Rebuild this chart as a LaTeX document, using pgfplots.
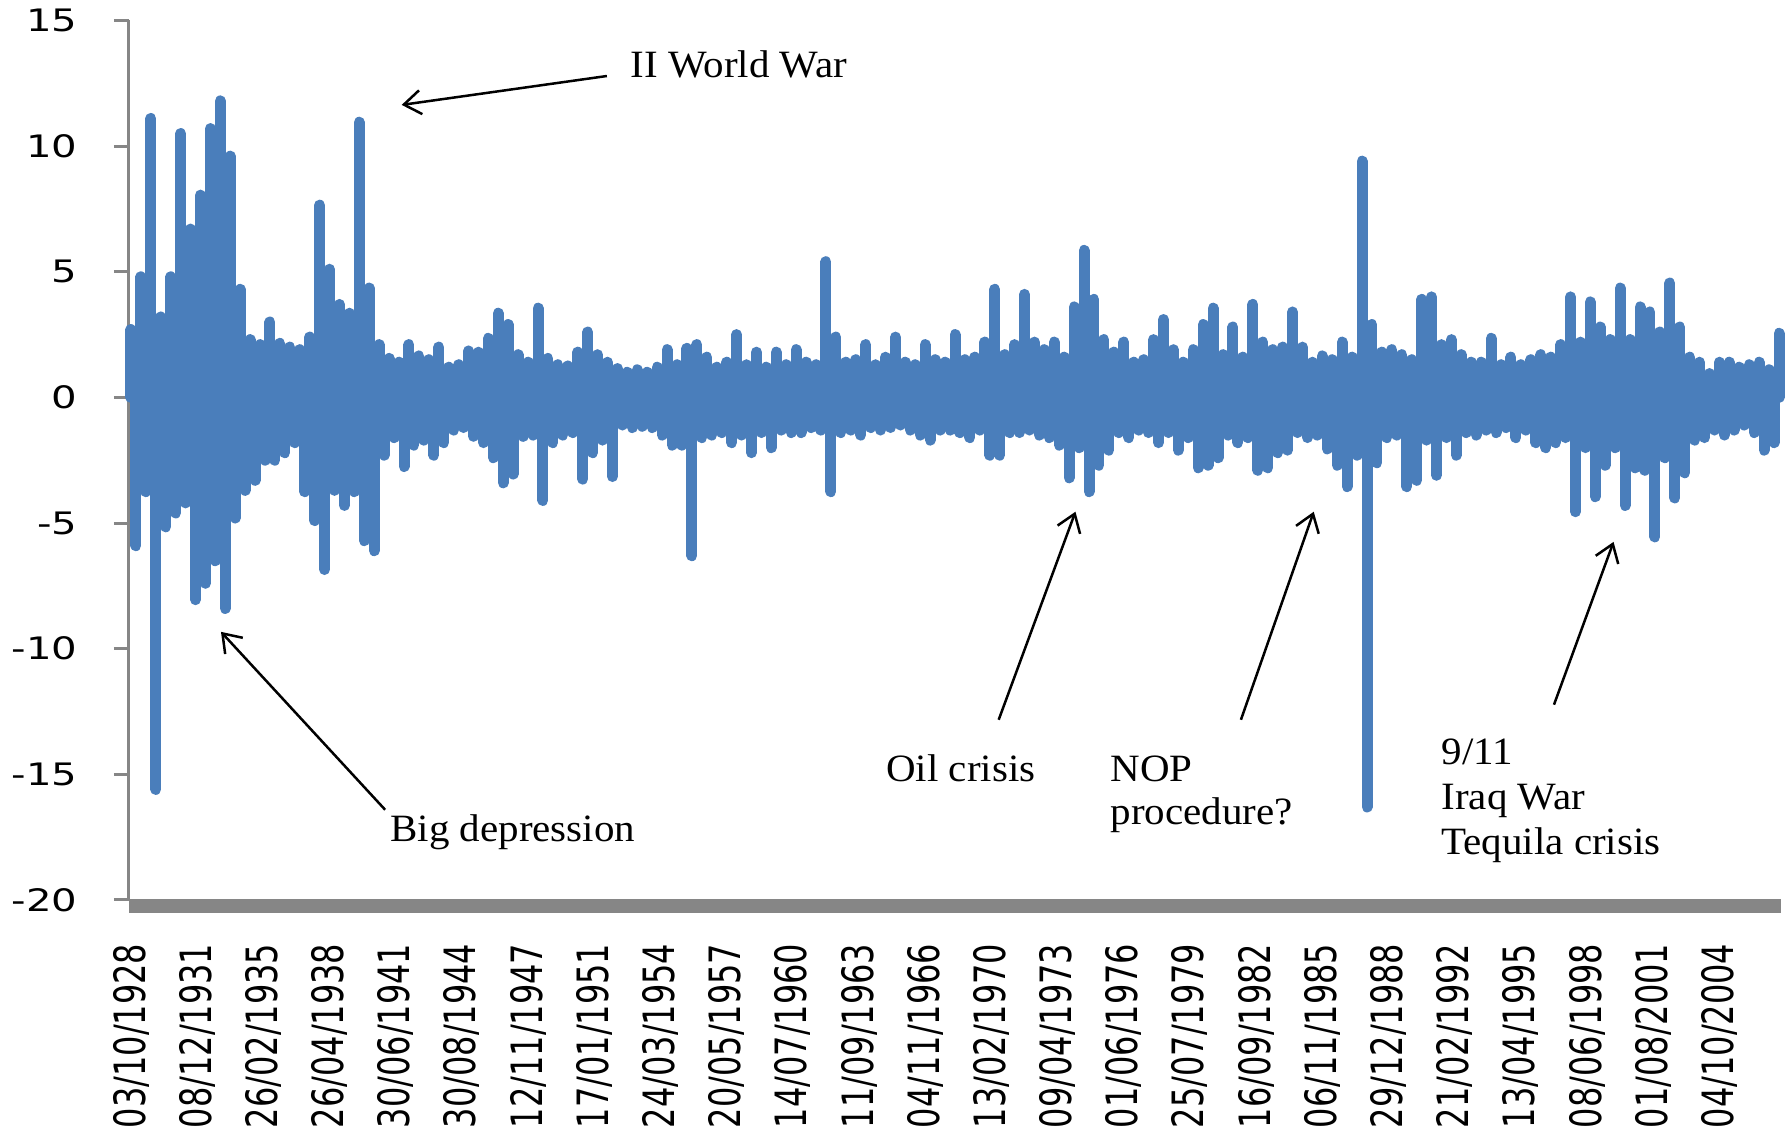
\documentclass[border=0pt]{standalone}
\usepackage{fontspec}
\usepackage{graphicx}
\usepackage{pgfplots}
\pgfplotsset{compat=1.18}
\usetikzlibrary{arrows.meta}
\newfontfamily\tickfont{DejaVu Sans}
\newfontfamily\annfont{Liberation Serif}[FakeStretch=1.06]
\definecolor{lineblue}{RGB}{74,126,187}
\definecolor{axgray}{RGB}{134,134,134}
\newcommand\xl[1]{\scalebox{1}[1.35]{#1}}
\newcommand\yl[1]{\scalebox{1.3}[1]{#1}}
\begin{document}
\begin{tikzpicture}
\begin{axis}[
  scale only axis, width=165mm, height=87.95mm,
  xmin=-0.03, xmax=24.9, ymin=-20, ymax=15,
  axis lines*=left,
  x axis line style={draw=none},
  y axis line style={axgray, line width=0.3mm},
  ytick={-20,-15,...,15},
  yticklabels={\yl{-20},\yl{-15},\yl{-10},\yl{-5},\yl{0},\yl{5},\yl{10},\yl{15}},
  xtick={0,...,24},
  xticklabels={\xl{03/10/1928},\xl{08/12/1931},\xl{26/02/1935},\xl{26/04/1938},\xl{30/06/1941},\xl{30/08/1944},\xl{12/11/1947},\xl{17/01/1951},\xl{24/03/1954},\xl{20/05/1957},\xl{14/07/1960},\xl{11/09/1963},\xl{04/11/1966},\xl{13/02/1970},\xl{09/04/1973},\xl{01/06/1976},\xl{25/07/1979},\xl{16/09/1982},\xl{06/11/1985},\xl{29/12/1988},\xl{21/02/1992},\xl{13/04/1995},\xl{08/06/1998},\xl{01/08/2001},\xl{04/10/2004}},
  x tick style={draw=none},
  y tick style={axgray, line width=0.3mm},
  tick align=outside, major tick length=1.5mm,
  x tick label style={font=\tickfont\fontsize{9.1}{10}\selectfont, rotate=90, anchor=east, inner sep=0pt},
  xticklabel shift=2.8mm,
  y tick label style={font=\tickfont\fontsize{8.8}{10}\selectfont, anchor=east, inner sep=0pt},
  yticklabel shift=3.6mm,
  clip=false,
]
\addplot[lineblue, line width=1.1mm, line cap=round, ycomb]
table[x expr={0.0+0.075*\coordindex}, y index=0, row sep=\\] {
y\\
2.7\\ -5.9\\ 4.8\\ -3.75\\ 11.1\\ -15.6\\ 3.2\\ -5.15\\ 4.8\\ -4.6\\
10.5\\ -4.2\\ 6.7\\ -8.05\\ 8.05\\ -7.4\\ 10.7\\ -6.5\\ 11.8\\ -8.4\\
9.6\\ -4.8\\ 4.3\\ -3.7\\ 2.3\\ -3.3\\ 2.1\\ -2.5\\ 3.0\\ -2.5\\
2.15\\ -2.2\\ 2.0\\ -1.8\\ 1.9\\ -3.75\\ 2.4\\ -4.9\\ 7.65\\ -6.85\\
5.1\\ -3.7\\ 3.7\\ -4.3\\ 3.35\\ -3.75\\ 10.95\\ -5.7\\ 4.35\\ -6.1\\
2.1\\ -2.3\\ 1.55\\ -1.6\\ 1.4\\ -2.75\\ 2.1\\ -1.9\\ 1.65\\ -1.7\\
1.5\\ -2.3\\ 2.0\\ -1.8\\ 1.2\\ -1.3\\ 1.3\\ -1.2\\ 1.85\\ -1.55\\
1.8\\ -1.8\\ 2.35\\ -2.4\\ 3.35\\ -3.4\\ 2.9\\ -3.05\\ 1.7\\ -1.55\\
1.4\\ -1.5\\ 3.55\\ -4.1\\ 1.55\\ -1.8\\ 1.3\\ -1.5\\ 1.25\\ -1.4\\
1.8\\ -3.25\\ 2.6\\ -2.2\\ 1.7\\ -1.7\\ 1.4\\ -3.15\\ 1.15\\ -1.1\\
1.0\\ -1.2\\ 1.1\\ -1.15\\ 1.0\\ -1.2\\ 1.2\\ -1.5\\ 1.9\\ -1.9\\
1.3\\ -1.9\\ 1.95\\ -6.3\\ 2.1\\ -1.6\\ 1.6\\ -1.5\\ 1.2\\ -1.4\\
1.4\\ -1.8\\ 2.5\\ -1.5\\ 1.3\\ -2.2\\ 1.8\\ -1.4\\ 1.2\\ -2.0\\
1.8\\ -1.3\\ 1.3\\ -1.4\\ 1.9\\ -1.4\\ 1.4\\ -1.2\\ 1.3\\ -1.3\\
5.4\\ -3.75\\ 2.4\\ -1.4\\ 1.4\\ -1.3\\ 1.5\\ -1.5\\ 2.1\\ -1.2\\
1.3\\ -1.3\\ 1.6\\ -1.2\\ 2.4\\ -1.1\\ 1.4\\ -1.3\\ 1.3\\ -1.5\\
2.1\\ -1.7\\ 1.5\\ -1.3\\ 1.4\\ -1.3\\ 2.5\\ -1.4\\ 1.5\\ -1.6\\
1.6\\ -1.3\\ 2.2\\ -2.3\\ 4.3\\ -2.3\\ 1.7\\ -1.4\\ 2.1\\ -1.4\\
4.1\\ -1.3\\ 2.2\\ -1.5\\ 1.9\\ -1.6\\ 2.2\\ -1.9\\ 1.6\\ -3.2\\
3.6\\ -2.0\\ 5.85\\ -3.75\\ 3.9\\ -2.7\\ 2.3\\ -2.1\\ 1.8\\ -1.4\\
2.2\\ -1.6\\ 1.4\\ -1.3\\ 1.5\\ -1.4\\ 2.3\\ -1.8\\ 3.1\\ -1.4\\
1.9\\ -2.1\\ 1.4\\ -1.6\\ 1.9\\ -2.8\\ 2.9\\ -2.7\\ 3.55\\ -2.4\\
1.7\\ -1.5\\ 2.8\\ -1.8\\ 1.6\\ -1.6\\ 3.7\\ -2.9\\ 2.2\\ -2.8\\
1.9\\ -2.2\\ 2.0\\ -2.1\\ 3.4\\ -1.4\\ 2.0\\ -1.6\\ 1.4\\ -1.5\\
1.65\\ -2.05\\ 1.5\\ -2.7\\ 2.2\\ -3.55\\ 1.6\\ -2.3\\ 9.4\\ -16.3\\
2.9\\ -2.6\\ 1.8\\ -1.6\\ 1.9\\ -1.5\\ 1.7\\ -3.55\\ 1.5\\ -3.3\\
3.9\\ -1.7\\ 4.0\\ -3.1\\ 2.1\\ -1.6\\ 2.3\\ -2.3\\ 1.7\\ -1.4\\
1.4\\ -1.5\\ 1.4\\ -1.3\\ 2.35\\ -1.4\\ 1.3\\ -1.2\\ 1.6\\ -1.6\\
1.3\\ -1.3\\ 1.5\\ -1.8\\ 1.7\\ -2.0\\ 1.6\\ -1.8\\ 2.1\\ -1.6\\
4.0\\ -4.55\\ 2.2\\ -2.0\\ 3.8\\ -3.95\\ 2.8\\ -2.7\\ 2.3\\ -2.0\\
4.35\\ -4.3\\ 2.3\\ -2.8\\ 3.6\\ -2.9\\ 3.4\\ -5.55\\ 2.6\\ -2.4\\
4.55\\ -4.0\\ 2.8\\ -3.0\\ 1.6\\ -1.7\\ 1.4\\ -1.6\\ 0.95\\ -1.3\\
1.4\\ -1.5\\ 1.4\\ -1.3\\ 1.2\\ -1.1\\ 1.3\\ -1.4\\ 1.4\\ -2.1\\
1.1\\ -1.8\\ 2.55\\
};
\fill[axgray] ([yshift=0.05mm]rel axis cs:0,0) rectangle ([yshift=-1.35mm, xshift=0.2mm]rel axis cs:1,0);
% annotations
\begin{scope}[font=\annfont\fontsize{11}{13}\selectfont]
\node[anchor=base west, inner sep=0pt] at (axis cs:7.54,12.75) {II World War};
\node[anchor=base west, inner sep=0pt] at (axis cs:3.91,-17.68) {Big depression};
\node[anchor=base west, inner sep=0pt] at (axis cs:11.40,-15.29) {Oil crisis};
\node[anchor=base west, inner sep=0pt] at (axis cs:14.79,-15.29) {NOP};
\node[anchor=base west, inner sep=0pt] at (axis cs:14.79,-17.0) {procedure?};
\node[anchor=base west, inner sep=0pt] at (axis cs:19.79,-14.62) {9/11};
\node[anchor=base west, inner sep=0pt] at (axis cs:19.79,-16.41) {Iraq War};
\node[anchor=base west, inner sep=0pt] at (axis cs:19.79,-18.2) {Tequila crisis};
\end{scope}
\begin{scope}[line width=0.25mm, -{Straight Barb[length=1.7mm,width=2.4mm]}]
\draw (axis cs:7.19,12.79) -- (axis cs:4.09,11.64);
\draw (axis cs:3.84,-16.41) -- (axis cs:1.36,-9.33);
\draw (axis cs:13.11,-12.83) -- (axis cs:14.27,-4.55);
\draw (axis cs:16.77,-12.83) -- (axis cs:17.87,-4.55);
\draw (axis cs:21.50,-12.23) -- (axis cs:22.40,-5.75);
\end{scope}
\end{axis}
\pgfresetboundingbox
\path[use as bounding box] ([xshift=-12.9mm,yshift=-23.4mm]current axis.south west) rectangle ([xshift=0.7mm,yshift=2.05mm]current axis.north east);
\end{tikzpicture}
\end{document}
